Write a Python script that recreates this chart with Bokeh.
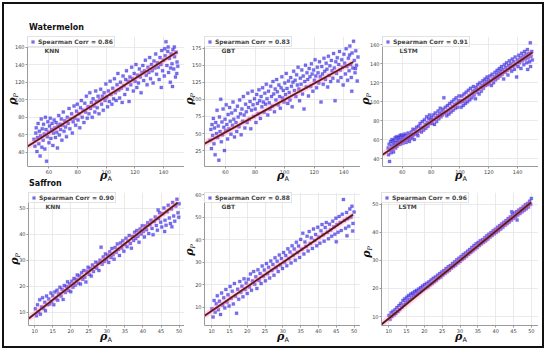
from bokeh.plotting import figure
from bokeh.layouts import column, row
from bokeh.models import Legend, LegendItem, Label, Range1d, FixedTicker, Div
from bokeh.embed import file_html
from bokeh.resources import INLINE

crop_names = ["Watermelon", "Saffron"]
model_names = ["KNN", "GBT", "LSTM", "KNN", "GBT", "LSTM"]
corr_values = [0.86, 0.83, 0.91, 0.90, 0.88, 0.96]
x_label_sub = "A"
y_label_sub = "P"

wm_knn = [(49.5,55),(50.2,47),(50.8,62),(51.1,68),(51.6,41),(52.0,57),(52.4,73),(52.9,50),(53.3,64),(53.8,36),(54.1,59),(54.6,78),(55.0,46),(55.3,67),(55.9,54),(56.2,72),(56.7,61),(57.1,44),(57.5,80),(57.9,66),(58.3,30),(58.8,58),(59.2,75),(59.6,63),(60.0,51),(60.4,70),
          (60.9,79),(61.3,56),(61.8,66),(62.2,73),(62.7,48),(63.1,62),(63.6,77),(64.0,68),(64.5,57),(65.0,74),(65.4,63),(65.9,45),(66.3,70),(66.8,82),(67.2,60),(67.7,72),(68.1,66),(68.6,78),(69.0,54),(69.5,71),(70.0,86),(70.5,64),(71.0,76),(71.6,69),(72.2,58),(72.8,80),(73.4,73),(74.0,90),(74.6,67),(75.2,78),
          (75.8,84),(76.3,62),(76.9,75),(77.5,93),(78.0,79),(78.6,71),(79.2,87),(79.8,95),(80.3,77),(80.9,84),(81.5,68),(82.0,91),(82.6,99),(83.2,80),(83.8,88),(84.4,74),(85.0,96),(85.5,86),(86.1,104),(86.7,79),(87.3,92),(87.9,84),(88.5,108),(89.0,90),(89.6,97),(90.2,80),(90.8,101),(91.4,93),(92.0,86),(92.6,110),(93.1,98),(93.7,91),(94.3,104),(94.9,84),(95.5,100),(96.1,112),(96.7,95),(97.3,104),(97.9,88),(98.5,108),(99.1,99),(99.7,118),
          (100.3,103),(100.9,92),(101.5,110),(102.1,98),(102.7,121),(103.3,106),(103.9,95),(104.5,113),(105.1,101),(105.7,124),(106.3,108),(106.9,99),(107.5,117),(108.1,130),(108.7,111),(109.3,102),(109.9,120),(110.5,113),(111.1,97),(111.7,127),(112.3,116),(112.9,106),(113.5,123),(114.1,133),(114.7,112),(115.3,121),(115.9,98),(116.5,126),(117.1,117),(117.7,137),(118.3,124),(118.9,110),(119.5,130),(120.1,121),(120.7,140),(121.3,114),(121.9,128),(122.5,119),(123.1,135),(123.7,126),(124.3,108),(124.9,131),
          (125.5,139),(126.1,122),(126.7,133),(127.3,145),(127.9,128),(128.5,117),(129.1,137),(129.7,131),(130.3,148),(130.9,124),(131.5,140),(132.1,133),(132.7,119),(133.3,144),(133.9,136),(134.5,152),(135.1,129),(135.7,142),(136.3,137),(136.9,123),(137.5,148),(138.1,140),(138.7,156),(139.3,133),(139.9,145),(140.5,127),(141.1,150),(141.7,166),(142.3,139),(142.9,155),(143.5,131),(144.1,147),(144.7,120),(145.3,152),(145.9,141),(146.5,157),(147.1,135),(147.7,149),(148.3,126),(148.9,154),(149.4,143),(149.9,138),(146.2,115),(143.2,160),(140.8,158),(138.4,114),(147.5,160),(149.2,130),(144.9,136)]
wm_gbt = [(49.6,40),(50.1,56),(50.5,28),(50.9,63),(51.3,47),(51.8,72),(52.2,35),(52.6,58),(53.0,19),(53.4,66),(53.9,50),(54.3,84),(54.7,44),(55.1,61),(55.5,11),(55.9,74),(56.3,53),(56.8,100),(57.2,38),(57.6,67),(58.0,48),(58.4,86),(58.8,59),(59.3,25),(59.7,71),(60.1,54),(60.5,92),(60.9,63),(61.4,42),(61.8,78),
          (62.3,57),(62.8,88),(63.2,68),(63.7,49),(64.2,80),(64.7,62),(65.1,96),(65.6,71),(66.1,45),(66.6,84),(67.1,66),(67.6,53),(68.1,90),(68.6,74),(69.1,60),(69.6,99),(70.1,79),(70.6,48),(71.1,86),(71.6,68),(72.1,104),(72.6,77),(73.1,58),(73.6,93),(74.1,82),(74.6,66),(75.1,109),(75.6,88),(76.1,71),(76.6,97),(77.1,57),(77.6,84),(78.1,112),(78.6,92),(79.1,75),(79.6,101),
          (80.1,86),(80.6,66),(81.1,107),(81.6,94),(82.1,79),(82.6,114),(83.1,98),(83.6,72),(84.1,104),(84.6,89),(85.1,117),(85.6,96),(86.1,81),(86.6,109),(87.1,93),(87.6,122),(88.1,101),(88.6,77),(89.1,112),(89.6,95),(90.1,86),(90.6,119),(91.1,104),(91.6,90),(92.1,126),(92.6,108),(93.1,82),(93.6,115),(94.1,99),(94.6,129),(95.1,111),(95.6,92),(96.1,121),(96.6,104),(97.1,87),(97.6,117),(98.1,133),(98.6,102),(99.1,113),(99.6,96),
          (100.1,124),(100.6,107),(101.1,138),(101.6,116),(102.1,94),(102.6,127),(103.1,110),(103.6,99),(104.1,132),(104.6,119),(105.1,89),(105.6,125),(106.1,141),(106.6,113),(107.1,128),(107.6,104),(108.1,136),(108.6,121),(109.1,147),(109.6,115),(110.1,98),(110.6,131),(111.1,122),(111.6,143),(112.1,108),(112.6,134),(113.1,86),(113.6,126),(114.1,150),(114.6,118),(115.1,139),(115.6,129),(116.1,105),(116.6,145),(117.1,133),(117.6,119),(118.1,152),(118.6,137),(119.1,112),(119.6,143),(120.1,128),(120.6,158),(121.1,134),(121.6,117),(122.1,147),(122.6,139),(123.1,124),(123.6,155),(124.1,133),(124.6,96),
          (125.1,148),(125.6,137),(126.1,122),(126.6,160),(127.1,141),(127.6,129),(128.1,153),(128.6,144),(129.1,118),(129.6,163),(130.1,135),(130.6,149),(131.1,126),(131.6,157),(132.1,142),(132.6,131),(133.1,167),(133.6,146),(134.1,98),(134.6,155),(135.1,138),(135.6,161),(136.1,127),(136.6,151),(137.1,170),(137.6,143),(138.1,132),(138.6,158),(139.1,147),(139.6,121),(140.1,166),(140.6,153),(141.1,137),(141.6,174),(142.1,148),(142.6,128),(143.1,160),(143.6,142),(144.1,178),(144.6,151),(145.1,132),(145.6,168),(146.1,146),(146.6,185),(147.1,157),(147.6,139),(148.1,171),(148.6,150),(149.1,127),(149.6,162),(145.4,112),(147.9,145),(143.9,165)]
wm_lstm = [(50.1,51),(50.4,44),(50.8,55),(51.1,37),(51.4,49),(51.8,58),(52.1,46),(52.5,53),(52.8,60),(53.2,50),(53.5,56),(53.9,47),(54.2,59),(54.6,54),(54.9,62),(55.3,51),(55.6,57),(56.0,63),(56.3,53),(56.7,59),(57.0,55),(57.4,62),(57.8,57),(58.1,64),(58.5,55),(58.9,60),(59.2,65),(59.6,58),(60.0,62),(60.4,56),
           (60.8,64),(61.2,59),(61.7,66),(62.1,61),(62.6,57),(63.0,64),(63.5,60),(64.0,67),(64.4,62),(64.9,58),(65.4,65),(65.9,61),(66.3,68),(66.8,63),(67.3,71),(67.8,65),(68.3,60),(68.8,70),(69.3,66),(69.8,73),(70.3,67),(70.8,64),(71.3,74),(71.8,69),(72.3,77),(72.8,72),(73.3,68),(73.8,79),(74.3,73),(74.8,70),(75.3,81),(75.8,76),(76.3,72),(76.8,84),(77.3,78),(77.8,74),(78.3,82),(78.8,86),(79.3,77),(79.8,81),
           (80.3,83),(80.8,77),(81.3,86),(81.8,81),(82.3,76),(82.8,88),(83.3,83),(83.8,79),(84.3,85),(84.8,90),(85.3,82),(85.8,87),(86.3,93),(86.8,84),(87.3,89),(87.8,86),(88.3,92),(88.8,104),(89.3,88),(89.8,94),(90.3,89),(90.8,85),(91.3,96),(91.8,91),(92.3,87),(92.8,98),(93.3,93),(93.8,89),(94.3,100),(94.8,95),(95.3,91),(95.8,102),(96.3,97),(96.8,93),(97.3,104),(97.8,98),(98.3,94),(98.8,101),(99.3,106),(99.8,99),
           (100.3,101),(100.8,94),(101.3,106),(101.8,100),(102.3,96),(102.8,108),(103.3,102),(103.8,98),(104.3,110),(104.8,104),(105.3,100),(105.8,112),(106.3,106),(106.8,102),(107.3,114),(107.8,108),(108.3,104),(108.8,111),(109.3,116),(109.8,107),(110.3,112),(110.8,103),(111.3,115),(111.8,110),(112.3,118),(112.8,113),(113.3,108),(113.8,120),(114.3,115),(114.8,111),(115.3,117),(115.8,122),(116.3,114),(116.8,119),(117.3,124),(117.8,117),(118.3,121),(118.8,126),(119.3,118),(119.8,123),(120.3,120),(120.8,127),(121.3,122),(121.8,117),(122.3,129),(122.8,124),(123.3,120),(123.8,126),(124.3,131),(124.8,123),
           (125.3,128),(125.8,133),(126.3,125),(126.8,130),(127.3,135),(127.8,127),(128.3,132),(128.8,137),(129.3,129),(129.8,134),(130.3,124),(130.8,139),(131.3,131),(131.8,136),(132.3,141),(132.8,133),(133.3,128),(133.8,138),(134.3,143),(134.8,135),(135.3,140),(135.8,132),(136.3,145),(136.8,137),(137.3,142),(137.8,134),(138.3,147),(138.8,139),(139.3,126),(139.8,144),(140.3,137),(140.8,149),(141.3,141),(141.8,146),(142.3,135),(142.8,151),(143.3,143),(143.8,148),(144.3,139),(144.8,153),(145.3,145),(145.8,150),(146.3,141),(146.8,155),(147.3,146),(147.8,151),(148.3,142),(148.8,162),(149.3,148),(149.8,153),(150.2,144),(149.0,137),(147.0,134)]
sf_knn = [(10.2,11.3),(10.5,8.6),(10.8,12.9),(11.1,10.1),(11.4,14.8),(11.6,9.2),(11.9,12.0),(12.2,15.6),(12.5,11.4),(12.8,13.8),(13.0,10.6),(13.3,16.2),(13.6,12.9),(13.9,15.1),(14.2,13.2),(14.5,17.4),(14.7,14.0),(15.0,16.3),(15.3,12.9),(15.6,17.8),(15.9,15.2),(16.2,18.4),(16.4,14.6),(16.7,17.1),(17.0,19.6),(17.3,16.2),(17.6,18.8),(17.9,14.9),(18.2,20.3),(18.5,17.6),(18.8,19.9),(19.1,21.7),(19.4,18.3),(19.7,20.8),(20.0,17.9),
          (20.3,21.9),(20.6,19.6),(20.9,23.0),(21.2,20.4),(21.5,22.6),(21.8,24.3),(22.1,21.1),(22.4,23.9),(22.7,20.8),(23.0,25.2),(23.3,22.7),(23.6,26.0),(23.9,23.4),(24.2,21.6),(24.5,25.7),(24.8,27.3),(25.1,24.5),(25.4,26.8),(25.7,23.9),(26.0,28.1),(26.3,25.6),(26.6,27.4),(26.9,29.2),(27.2,26.9),(27.5,28.8),(27.8,26.0),(28.1,30.0),(28.4,35.0),(28.7,28.4),(29.0,31.2),(29.3,29.5),(29.6,32.4),(29.9,30.3),
          (30.2,31.9),(30.5,29.1),(30.8,33.2),(31.1,31.0),(31.4,34.5),(31.7,32.1),(32.0,30.4),(32.3,34.9),(32.6,33.0),(32.9,36.2),(33.2,34.1),(33.5,31.8),(33.8,36.6),(34.1,34.7),(34.4,37.5),(34.7,33.4),(35.0,36.0),(35.3,38.4),(35.6,35.2),(35.9,37.3),(36.2,39.5),(36.5,36.4),(36.8,34.6),(37.1,39.1),(37.4,37.6),(37.7,40.7),(38.0,38.3),(38.3,41.4),(38.6,39.2),(38.9,36.9),(39.2,42.0),(39.5,40.1),(39.8,43.2),
          (40.1,41.0),(40.4,38.9),(40.7,43.1),(41.0,41.7),(41.3,44.4),(41.6,40.2),(41.9,43.6),(42.2,45.3),(42.5,42.2),(42.8,39.8),(43.1,44.9),(43.4,46.6),(43.7,43.3),(44.0,41.5),(44.3,46.0),(44.6,48.2),(44.9,44.6),(45.2,42.7),(45.5,47.8),(45.8,50.0),(46.1,45.3),(46.4,43.4),(46.7,48.6),(47.0,51.1),(47.3,46.2),(47.6,44.1),(47.9,49.7),(48.2,52.2),(48.5,47.0),(48.8,45.0),(49.1,50.8),(49.4,53.4),(49.7,48.2),(50.0,51.7),(46.0,41.0),(48.0,42.8),(49.9,46.5),(44.2,49.3)]
sf_gbt = [(10.1,9.4),(10.4,5.8),(10.7,13.1),(11.0,7.9),(11.3,11.6),(11.6,15.2),(11.9,9.0),(12.2,12.8),(12.5,6.9),(12.8,16.4),(13.1,11.1),(13.4,14.3),(13.7,9.8),(14.0,18.0),(14.3,12.4),(14.6,15.6),(14.9,10.7),(15.2,19.3),(15.5,14.1),(15.8,17.2),(16.1,11.5),(16.4,20.6),(16.7,15.0),(17.0,7.4),(17.3,18.1),(17.6,13.6),(17.9,21.5),(18.2,16.8),(18.5,19.4),(18.8,14.7),(19.1,22.7),(19.4,18.0),(19.7,20.9),(20.0,16.2),
          (20.3,22.5),(20.6,19.1),(20.9,24.8),(21.2,17.6),(21.5,21.7),(21.8,25.9),(22.1,20.3),(22.4,23.6),(22.7,18.4),(23.0,26.7),(23.3,22.0),(23.6,25.1),(23.9,20.6),(24.2,28.4),(24.5,23.9),(24.8,26.6),(25.1,21.8),(25.4,29.5),(25.7,25.0),(26.0,27.8),(26.3,23.1),(26.6,30.6),(26.9,26.4),(27.2,29.1),(27.5,24.3),(27.8,32.0),(28.1,27.6),(28.4,30.5),(28.7,25.9),(29.0,33.3),(29.3,28.8),(29.6,31.7),
          (29.9,27.3),(30.2,34.4),(30.5,30.1),(30.8,33.0),(31.1,28.5),(31.4,36.0),(31.7,31.6),(32.0,34.6),(32.3,29.7),(32.6,37.4),(32.9,33.2),(33.2,35.9),(33.5,31.0),(33.8,38.9),(34.1,34.4),(34.4,37.3),(34.7,32.2),(35.0,40.2),(35.3,35.8),(35.6,42.9),(35.9,33.7),(36.2,39.0),(36.5,37.0),(36.8,41.6),(37.1,35.1),(37.4,43.7),(37.7,38.4),(38.0,40.9),(38.3,36.2),(38.6,44.8),(38.9,39.7),(39.2,42.4),(39.5,37.4),(39.8,45.6),
          (40.1,41.2),(40.4,38.5),(40.7,44.0),(41.0,46.8),(41.3,42.3),(41.6,39.4),(41.9,45.5),(42.2,47.7),(42.5,43.4),(42.8,40.5),(43.1,46.9),(43.4,44.4),(43.7,41.6),(44.0,48.3),(44.3,45.7),(44.6,42.5),(44.9,49.6),(45.2,46.8),(45.5,43.4),(45.8,50.4),(46.1,47.7),(46.4,44.1),(46.7,51.3),(47.0,57.9),(47.3,48.6),(47.6,45.1),(47.9,52.1),(48.2,49.4),(48.5,46.0),(48.8,53.7),(49.1,50.0),(49.4,54.9),(49.7,47.3),(50.0,52.3),(48.0,41.8),(49.6,43.9),(45.0,39.2)]
sf_lstm = [(10.1,10.4),(10.4,9.0),(10.7,11.3),(10.9,10.0),(11.2,11.9),(11.5,10.6),(11.8,12.4),(12.0,11.1),(12.3,13.2),(12.6,11.8),(12.9,13.9),(13.1,12.5),(13.4,14.6),(13.7,13.3),(14.0,15.7),(14.2,14.2),(14.5,16.3),(14.8,15.0),(15.1,16.9),(15.3,15.6),(15.6,17.5),(15.9,16.1),(16.2,18.0),(16.4,16.7),(16.7,18.4),(17.0,17.3),(17.3,18.9),(17.5,17.8),(17.8,19.3),(18.1,18.2),(18.4,19.8),(18.7,18.7),(19.0,20.3),(19.2,19.2),(19.5,20.9),(19.8,19.7),
           (20.1,21.4),(20.4,20.2),(20.7,21.9),(21.0,20.6),(21.3,22.4),(21.6,21.3),(21.9,23.0),(22.2,21.8),(22.5,23.6),(22.8,22.4),(23.1,24.1),(23.4,22.9),(23.7,24.7),(24.0,23.6),(24.3,25.3),(24.6,24.1),(24.9,25.9),(25.2,24.8),(25.5,26.4),(25.8,25.4),(26.1,27.1),(26.4,26.0),(26.7,27.7),(27.0,26.5),(27.3,28.2),(27.6,27.3),(27.9,28.9),(28.2,27.8),(28.5,29.5),(28.8,28.4),(29.1,30.2),(29.4,29.1),(29.7,30.8),
           (30.0,29.6),(30.3,31.4),(30.6,30.3),(30.9,32.1),(31.2,30.9),(31.5,32.6),(31.8,31.5),(32.1,33.3),(32.4,32.2),(32.7,33.9),(33.0,32.8),(33.3,34.6),(33.6,33.4),(33.9,35.3),(34.2,34.1),(34.5,35.9),(34.8,34.6),(35.1,36.4),(35.4,35.3),(35.7,37.0),(36.0,35.9),(36.3,37.4),(36.6,36.5),(36.9,38.1),(37.2,37.0),(37.5,38.8),(37.8,37.6),(38.1,39.3),(38.4,38.3),(38.7,39.9),(39.0,38.9),(39.3,40.6),(39.6,39.5),(39.9,41.1),
           (40.2,40.0),(40.5,41.8),(40.8,40.6),(41.1,42.4),(41.4,41.2),(41.7,43.0),(42.0,41.8),(42.3,43.6),(42.6,42.5),(42.9,44.2),(43.2,43.1),(43.5,44.9),(43.8,43.7),(44.1,45.5),(44.4,44.4),(44.7,46.3),(45.0,45.0),(45.3,46.9),(45.6,45.6),(45.9,47.4),(46.2,46.2),(46.5,48.0),(46.8,46.7),(47.1,48.5),(47.4,47.3),(47.7,49.1),(48.0,47.9),(48.3,49.8),(48.6,48.4),(48.9,50.3),(49.2,49.0),(49.5,51.1),(49.8,50.0),(50.0,52.1),(44.5,47.3),(46.0,44.4)]

# fitted regression lines (x ends, y ends)
fit_x = [[45.0, 149.3], [45.8, 146.3], [46.2, 150.3], [8.3, 49.6], [8.0, 49.7], [8.0, 49.9]]
fit_y = [[46.8, 154.3], [35.0, 154.6], [43.9, 151.9], [7.5, 52.1], [6.3, 51.2], [7.2, 50.6]]

wm_xticks = [60, 80, 100, 120, 140]
sf_xticks = [10, 15, 20, 25, 30, 35, 40, 45, 50]
yticks = [[40, 60, 80, 100, 120, 140, 160], [25, 50, 75, 100, 125, 150, 175],
          [40, 60, 80, 100, 120, 140, 160], [10, 20, 30, 40, 50],
          [10, 20, 30, 40, 50, 60], [10, 20, 30, 40, 50]]
x_ranges = [(45.0, 154.6), (45.8, 151.3), (46.2, 154.5), (8.3, 51.5), (8.0, 51.8), (8.0, 52.0)]
y_ranges = [(24.0, 172.0), (1.7, 192.0), (31.6, 168.7), (4.9, 56.0), (2.0, 61.0), (6.8, 54.2)]

data = [wm_knn, wm_gbt, wm_lstm, sf_knn, sf_gbt, sf_lstm]

SANS = "DejaVu Sans"


def make_panel(i):
    top_row = i < 3
    fw = [157, 156, 156, 156, 156, 157][i]
    fh = 130 if top_row else 133
    bl = [27, 20, 22, 28, 20, 21][i]
    bt = 35 if top_row else 9
    bb = 17 if top_row else 20
    p = figure(frame_width=fw, frame_height=fh, output_backend="svg", toolbar_location=None,
               x_range=Range1d(*x_ranges[i]), y_range=Range1d(*y_ranges[i]),
               min_border_left=bl, min_border_right=0, min_border_top=bt, min_border_bottom=bb)
    p.outline_line_color = None
    p.background_fill_color = "white"
    p.border_fill_color = "white"
    for ax in (p.xaxis[0], p.yaxis[0]):
        ax.axis_line_color = "#9a9a9a"
        ax.axis_line_width = 1
        ax.major_tick_line_color = "#9a9a9a"
        ax.major_tick_out = 2
        ax.major_tick_in = 0
        ax.minor_tick_line_color = None
        ax.major_label_text_font_size = "5px"
        ax.major_label_text_color = "#444444"
        ax.major_label_standoff = 1
        ax.major_label_text_font = SANS
    p.xaxis.ticker = FixedTicker(ticks=wm_xticks if top_row else sf_xticks)
    p.yaxis.ticker = FixedTicker(ticks=yticks[i])
    p.grid.grid_line_color = "#e4e4e4"
    p.grid.grid_line_width = 0.8

    pts = data[i]
    xs = [a for a, b in pts]
    ys = [b for a, b in pts]
    r = p.scatter(xs, ys, marker="square", size=3.0, fill_color="#3a2ee0", fill_alpha=0.68,
                  line_color="#3a2ee0", line_alpha=0.45, line_width=0.5)
    p.line(fit_x[i], fit_y[i], line_color="#ff7fd0", line_width=6, line_alpha=0.3)
    p.line(fit_x[i], fit_y[i], line_color="#cf3b2c", line_width=2.1)
    p.line(fit_x[i], fit_y[i], line_color="#3a2020", line_width=1.3)

    leg = Legend(items=[LegendItem(label=f"Spearman Corr = {corr_values[i]:.2f}", renderers=[r])],
                 location="top_left", margin=0, padding=1, spacing=0,
                 glyph_width=7, glyph_height=7, label_height=7, label_standoff=2,
                 label_text_font_size="6px", label_text_font_style="bold", label_text_font=SANS,
                 border_line_color="#c8c8c8", border_line_width=0.7, background_fill_alpha=0.9)
    p.add_layout(leg)

    p.add_layout(Label(x=17, y=fh - 14, x_units="screen", y_units="screen", text=model_names[i],
                       text_font_size="6px", text_font_style="bold", text_font=SANS,
                       text_baseline="middle"))
    return p


figs = [make_panel(i) for i in range(6)]

# outer texts (titles, axis labels) and the frame, positioned over the layout in page pixels
title_pos = [(29, 22.5), (29, 178.5)]
xlab_pos = [(106, 169.5), (283, 169.5), (461, 169.5), (106, 330.5), (283, 330.5), (461, 330.5)]
ylab_pos = [(13, 99), (190, 99), (366, 99), (15, 259), (190, 250), (367, 252)]

parts = ['<div style="position:absolute;left:0px;top:0px;width:550px;height:0px;overflow:visible;">',
         '<div style="position:absolute;left:2px;top:2px;width:542px;height:346px;'
         'border:2px solid #111;pointer-events:none;"></div>']
for (tx, ty), name in zip(title_pos, crop_names):
    parts.append(f'<div style="position:absolute;left:{tx}px;top:{ty}px;white-space:nowrap;'
                 f'font:bold 8px \'DejaVu Sans\';line-height:9px;color:#111;">{name}</div>')
for cx, cy in xlab_pos:
    parts.append(f'<div style="position:absolute;left:{cx - 15}px;top:{cy}px;width:30px;text-align:center;'
                 f'white-space:nowrap;font:bold italic 11px \'DejaVu Serif\';line-height:11px;color:#111;">ρ'
                 f'<span style="font:normal 6.5px \'DejaVu Sans\';vertical-align:-2px;">{x_label_sub}</span></div>')
for cx, cy in ylab_pos:
    parts.append(f'<div style="position:absolute;left:{cx - 15}px;top:{cy - 6}px;width:30px;height:12px;'
                 f'text-align:center;white-space:nowrap;transform:rotate(-90deg);transform-origin:50% 50%;'
                 f'font:bold italic 11px \'DejaVu Serif\';line-height:12px;color:#111;">ρ'
                 f'<span style="font:italic 6.5px \'DejaVu Serif\';vertical-align:-2px;">{y_label_sub}</span></div>')
parts.append('</div>')
overlay = Div(text="".join(parts), width=538, height=1, margin=0,
              styles={"position": "relative", "z-index": "10", "overflow": "visible"})

layout = column(overlay, row(*figs[:3]), row(*figs[3:]))

open("out.html", "w").write(file_html(layout, INLINE))
